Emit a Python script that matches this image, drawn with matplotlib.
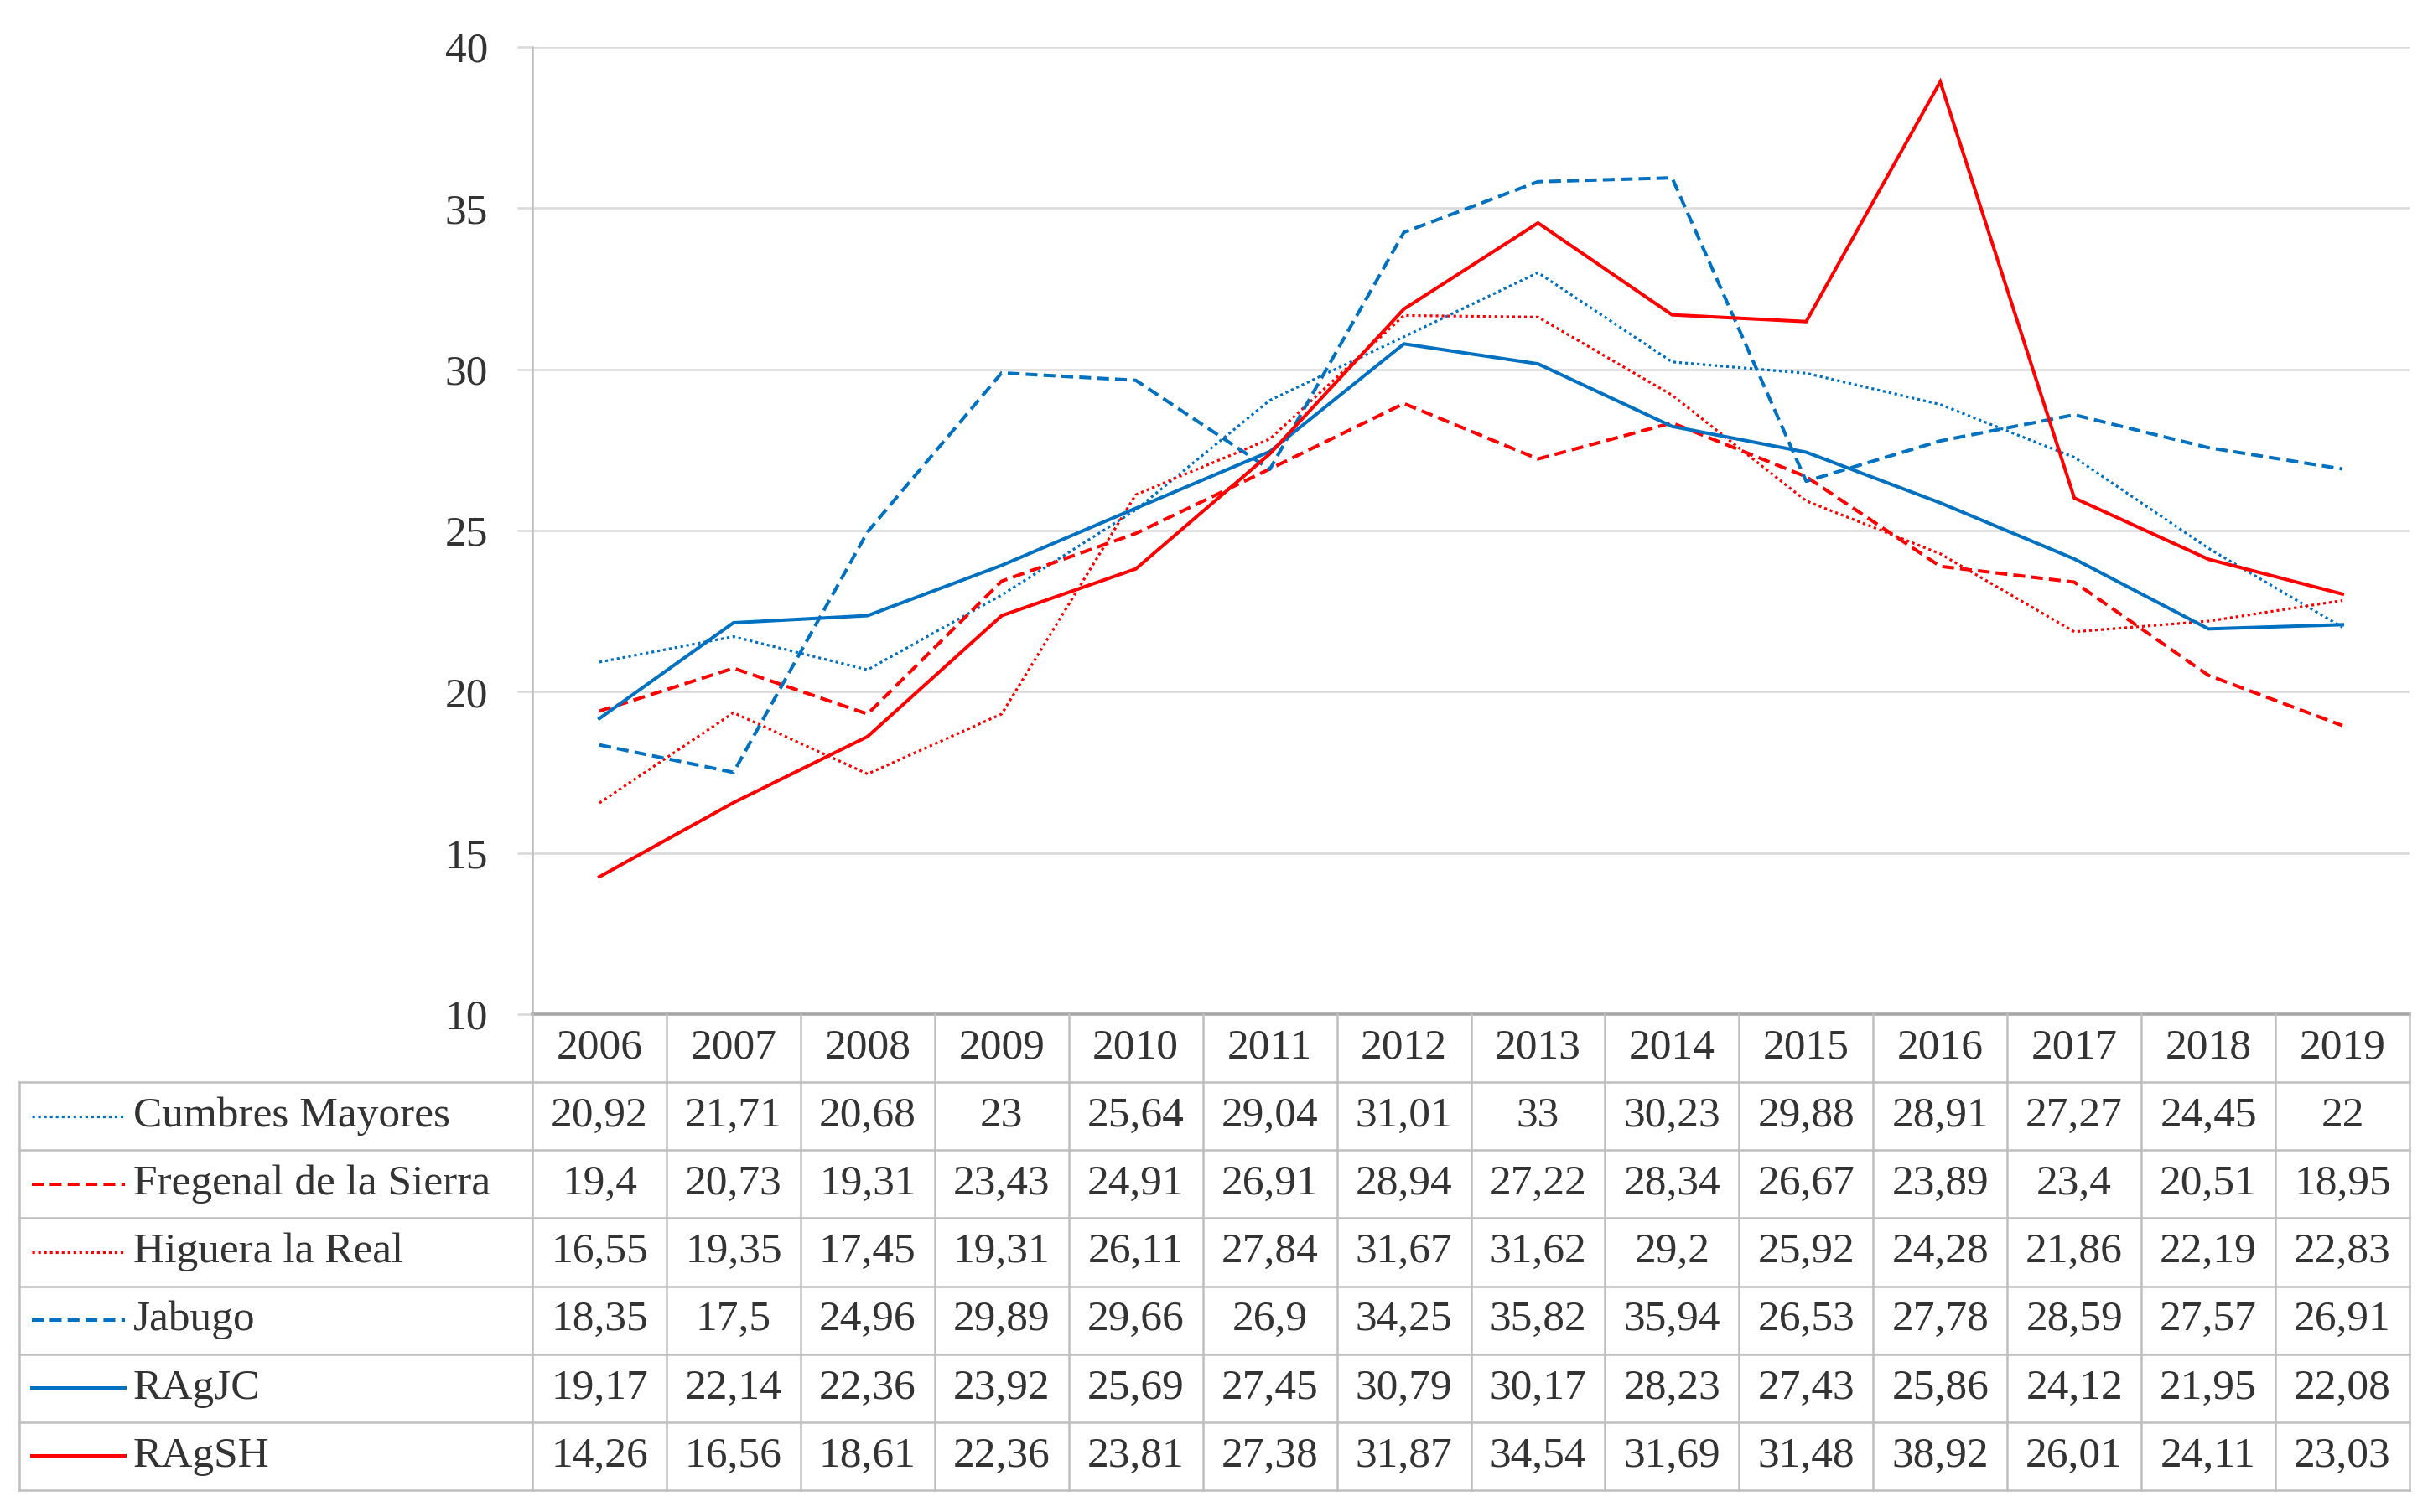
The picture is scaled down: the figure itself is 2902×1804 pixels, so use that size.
import matplotlib.pyplot as plt
from matplotlib.lines import Line2D

plt.rcParams['font.family'] = ['Liberation Serif', 'DejaVu Serif']

years = ["2006", "2007", "2008", "2009", "2010", "2011", "2012",
         "2013", "2014", "2015", "2016", "2017", "2018", "2019"]
names = ["Cumbres Mayores", "Fregenal de la Sierra", "Higuera la Real",
         "Jabugo", "RAgJC", "RAgSH"]
cumbres = [20.92, 21.71, 20.68, 23, 25.64, 29.04, 31.01, 33, 30.23, 29.88, 28.91, 27.27, 24.45, 22]
fregenal = [19.4, 20.73, 19.31, 23.43, 24.91, 26.91, 28.94, 27.22, 28.34, 26.67, 23.89, 23.4, 20.51, 18.95]
higuera = [16.55, 19.35, 17.45, 19.31, 26.11, 27.84, 31.67, 31.62, 29.2, 25.92, 24.28, 21.86, 22.19, 22.83]
jabugo = [18.35, 17.5, 24.96, 29.89, 29.66, 26.9, 34.25, 35.82, 35.94, 26.53, 27.78, 28.59, 27.57, 26.91]
ragjc = [19.17, 22.14, 22.36, 23.92, 25.69, 27.45, 30.79, 30.17, 28.23, 27.43, 25.86, 24.12, 21.95, 22.08]
ragsh = [14.26, 16.56, 18.61, 22.36, 23.81, 27.38, 31.87, 34.54, 31.69, 31.48, 38.92, 26.01, 24.11, 23.03]
yticks = [10, 15, 20, 25, 30, 35, 40]

series = [cumbres, fregenal, higuera, jabugo, ragjc, ragsh]
blue = "#0070C0"
red = "#FF0000"
styles = [
    dict(color=blue, lw=2.3, ls=(0, (1, 1.2))),
    dict(color=red, lw=2.9, ls=(0, (3.5, 1.8))),
    dict(color=red, lw=2.3, ls=(0, (1, 1.2))),
    dict(color=blue, lw=2.9, ls=(0, (3.5, 1.8))),
    dict(color=blue, lw=2.9, ls="-"),
    dict(color=red, lw=2.9, ls="-"),
]
txt = "#333333"
grid = "#d9d9d9"
border = "#bfbfbf"
fs = 37

W, H = 2902.0, 1804.0  # layout in pixels, measured on the reference
fig = plt.figure(figsize=(29.02, 18.04), dpi=100)

x0, x1 = 635, 2874
ytop, ybot = 56, 1210
ax = fig.add_axes([x0 / W, 1 - ybot / H, (x1 - x0) / W, (ybot - ytop) / H])
n = len(years)
xs = list(range(n))
for vals, st in zip(series, styles):
    ax.plot(xs, vals, solid_joinstyle="miter", **st)
ax.set_xlim(-0.5, n - 0.5)
ax.set_ylim(10, 40)
ax.set_yticks(yticks)
ax.set_yticklabels([str(t) for t in yticks], fontsize=fs, color=txt)
ax.set_xticks([])
ax.grid(axis="y", color=grid, lw=1.8)
ax.tick_params(axis="y", length=13, width=1.8, color=grid, pad=25)
for s in ["top", "right", "bottom"]:
    ax.spines[s].set_visible(False)
ax.spines["left"].set_color(border)
ax.spines["left"].set_linewidth(1.8)

# table below the plot, columns aligned with the x categories
tl = 23
tb = 1778
nrows = len(names)
unit = (x1 - x0) / n
left_units = (x0 - tl) / unit
tab = fig.add_axes([tl / W, 1 - tb / H, (x1 - tl) / W, (tb - ybot) / H])
tab.set_xlim(-0.5 - left_units, n - 0.5)
tab.set_ylim(nrows + 1, 0)
tab.axis("off")

lk = dict(color=border, lw=1.8, clip_on=False)
lx = -0.5 - left_units
# horizontal lines
tab.plot([-0.5, n - 0.5], [0, 0], color="#a6a6a6", lw=2.6, clip_on=False)
for r in range(1, nrows + 2):
    tab.plot([lx, n - 0.5], [r, r], **lk)
# vertical lines
tab.plot([lx, lx], [1, nrows + 1], **lk)
for c in range(n + 1):
    tab.plot([c - 0.5, c - 0.5], [0, nrows + 1], **lk)

for i, y in enumerate(years):
    tab.text(i, 0.5, y, ha="center", va="center", fontsize=fs, color=txt)

for r, (name, vals, st) in enumerate(zip(names, series, styles)):
    yc = r + 1.5
    sx0 = lx + 15 / unit
    sx1 = lx + 126 / unit
    tab.add_line(Line2D([sx0, sx1], [yc, yc], **st))
    tab.text(lx + 136 / unit, yc, name, ha="left", va="center", fontsize=fs, color=txt)
    for i, v in enumerate(vals):
        s = f"{v:g}".replace(".", ",")
        tab.text(i, yc, s, ha="center", va="center", fontsize=fs, color=txt)

fig.savefig("out.png", dpi=100, facecolor="white")
